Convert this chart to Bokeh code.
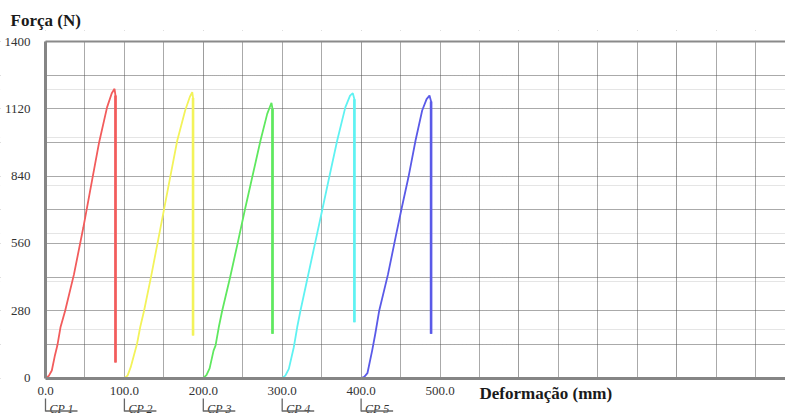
from bokeh.plotting import figure
from bokeh.models import (LinearAxis, FixedTicker, Grid, Label, BoxAnnotation, Range1d)
from bokeh.core.properties import value
from bokeh.embed import file_html
from bokeh.resources import INLINE

SERIF = "Liberation Serif"

# ---- data ----
specimens = ["CP 1", "CP 2", "CP 3", "CP 4", "CP 5"]
colors = ["#f25c5c", "#f3f35a", "#5fe85f", "#5ff2f2", "#5a5ae8"]

cp1_def = [0, 4, 8, 12, 15, 19, 25, 36, 48, 59, 68, 78, 84, 87.5, 88.7, 88.7]
cp1_force = [0, 8, 31, 95, 135, 211, 281, 430, 627, 822, 981, 1126, 1185, 1203, 1175, 65]

cp2_def = [100, 104, 108, 112, 116, 120, 125, 134, 147.5, 158, 167, 177, 183, 186, 187, 187]
cp2_force = [0, 10, 45, 94, 142, 211, 281, 425, 655, 835, 988, 1113, 1170, 1189, 1165, 177]

cp3_def = [200, 204, 208, 213, 215.5, 219.6, 224, 234, 243.5, 252.5, 262, 272.5, 281, 286.4, 287.7, 287.7]
cp3_force = [0, 12, 40, 114, 135, 211, 281, 419, 560, 697, 835, 988, 1099, 1145, 1120, 184]

cp4_def = [300, 304, 308.4, 314.7, 319, 323.2, 332.3, 341.6, 350.6, 359.6, 369.7, 380, 386, 389.5, 391.5, 391.5]
cp4_force = [0, 10, 38, 128, 211, 281, 419, 560, 697, 835, 988, 1126, 1175, 1185, 1160, 232]

cp5_def = [400, 404, 408, 414, 418, 423, 434, 444, 451, 460, 469, 477.4, 483, 486.7, 488.7, 488.7]
cp5_force = [0, 5, 20, 114, 184, 281, 430, 590, 700, 835, 988, 1113, 1160, 1175, 1150, 184]

x_tick_values = [0, 100, 200, 300, 400, 500]
x_tick_labels = ["0.0", "100.0", "200.0", "300.0", "400.0", "500.0"]
y_tick_values = [0, 280, 560, 840, 1120, 1400]
x_grid_values = list(range(0, 951, 50))
y_grid_values = list(range(0, 1401, 140))

series = [(cp1_def, cp1_force), (cp2_def, cp2_force), (cp3_def, cp3_force),
          (cp4_def, cp4_force), (cp5_def, cp5_force)]

# ---- layout constants (pixels) ----
W, H = 785, 415
FRAME_TOP = 30       # top of the drawing frame
PLOT_TOP = 41        # pixel row of y = 1400
PLOT_BOTTOM = 377.5  # pixel row of y = 0
ORIGIN_X = 45        # pixel column of x = 0
PX_PER_MM = 0.789
Y_MAX = 1400
N_PER_PX = Y_MAX / (PLOT_BOTTOM - PLOT_TOP)
Y_LO = -(H - PLOT_BOTTOM) * N_PER_PX
Y_HI = Y_MAX + (PLOT_TOP - FRAME_TOP) * N_PER_PX
X_LO = -ORIGIN_X / PX_PER_MM
X_HI = (W - ORIGIN_X) / PX_PER_MM

p = figure(width=W, height=H, output_backend="svg", toolbar_location=None,
           x_range=Range1d(X_LO, X_HI), y_range=Range1d(Y_LO, Y_HI),
           x_axis_location=None, y_axis_location=None,
           min_border_left=0, min_border_right=0, min_border_top=FRAME_TOP,
           min_border_bottom=0, title="Força (N)")
p.outline_line_color = None
p.background_fill_color = "white"
p.border_fill_color = "white"

p.title.text_font = SERIF
p.title.text_font_size = "17px"
p.title.text_font_style = "bold"
p.title.text_color = "#1a1a1a"
p.title.align = "left"
p.title.offset = 10
p.title.standoff = 2

# grids
p.add_layout(Grid(dimension=0, ticker=FixedTicker(ticks=x_grid_values),
                  grid_line_color="#555555", grid_line_dash="1 1", grid_line_width=1))
p.add_layout(Grid(dimension=1, ticker=FixedTicker(ticks=y_grid_values),
                  grid_line_color="#555555", grid_line_dash="1 1", grid_line_width=1))
# keep the regions outside the plotting area clean
for box in (BoxAnnotation(top=0), BoxAnnotation(right=0), BoxAnnotation(bottom=Y_MAX)):
    box.fill_color = "white"
    box.fill_alpha = 1
    box.line_color = None
    box.level = "underlay"
    p.add_layout(box)

# axes
xa = LinearAxis(ticker=FixedTicker(ticks=x_tick_values), fixed_location=0,
                bounds=(0, X_HI),
                major_label_overrides={v: s for v, s in zip(x_tick_values, x_tick_labels)})
xa.axis_line_color = "#858585"
xa.axis_line_width = 3
xa.major_tick_line_color = None
xa.minor_tick_line_color = None
xa.major_label_standoff = 3
xa.major_label_text_font = SERIF
xa.major_label_text_font_size = "13px"
xa.major_label_text_color = "#333333"
p.add_layout(xa, "below")

ya = LinearAxis(ticker=FixedTicker(ticks=y_tick_values), fixed_location=0,
                bounds=(0, Y_MAX))
ya.axis_line_color = "#858585"
ya.axis_line_width = 3
ya.major_tick_line_color = None
ya.minor_tick_line_color = None
ya.major_label_standoff = 9
ya.major_label_text_font = SERIF
ya.major_label_text_font_size = "13px"
ya.major_label_text_color = "#333333"
p.add_layout(ya, "left")

ta = LinearAxis(ticker=FixedTicker(ticks=[]), fixed_location=Y_MAX, bounds=(0, X_HI))
ta.axis_line_color = "#8a8a8a"
ta.axis_line_width = 2
ta.major_tick_line_color = None
ta.minor_tick_line_color = None
ta.major_label_text_font_size = "0px"
p.add_layout(ta, "above")

# curves
for (xs, ys), c in zip(series, colors):
    p.line(xs, ys, line_color=c, line_width=1.8)
    p.line(xs[-2:], ys[-2:], line_color=c, line_width=2.6)

# x-axis title
p.add_layout(Label(x=479, y=22, x_units="screen", y_units="screen",
                   text="Deformação (mm)", text_font=SERIF, text_font_size="17px",
                   text_font_style="bold", text_color="#1a1a1a",
                   text_baseline="middle"))

# specimen markers below the axis (positions taken from each curve's start)
starts = [s[0][0] for s in series]
n = len(starts)
y_text = -31 * N_PER_PX
y_bar_top = -20.5 * N_PER_PX
y_bar_bot = -33.5 * N_PER_PX
y_under = -33 * N_PER_PX
under_len = 32 / PX_PER_MM

p.text(x=starts, y=[y_text] * n, text=specimens, x_offset=4,
       text_font=value(SERIF), text_font_size=value("12px"),
       text_font_style=value("italic"), text_color="#333333",
       text_baseline=value("alphabetic"), text_align=value("left"))
p.segment(x0=starts, y0=[y_bar_top] * n, x1=starts, y1=[y_bar_bot] * n,
          line_color="#666666", line_width=1.3)
p.segment(x0=starts, y0=[y_under] * n, x1=[s + under_len for s in starts], y1=[y_under] * n,
          line_color="#666666", line_width=1.3)

open("out.html", "w").write(file_html(p, INLINE))
